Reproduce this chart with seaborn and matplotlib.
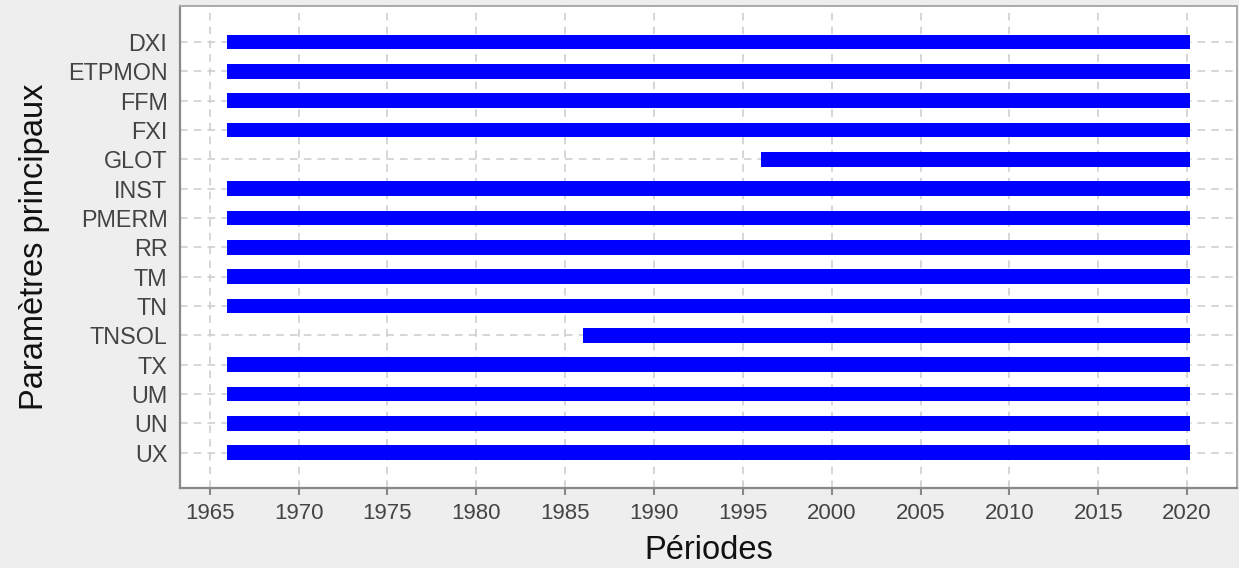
import matplotlib
matplotlib.use("Agg")
import matplotlib.pyplot as plt
import seaborn as sns
import pandas as pd

# Data
parametres = ["DXI", "ETPMON", "FFM", "FXI", "GLOT", "INST", "PMERM", "RR",
              "TM", "TN", "TNSOL", "TX", "UM", "UN", "UX"]
debut = [1966, 1966, 1966, 1966, 1996, 1966, 1966, 1966,
         1966, 1966, 1986, 1966, 1966, 1966, 1966]
fin = [2020.17] * 15
xticks_years = [1965, 1970, 1975, 1980, 1985, 1990, 1995, 2000, 2005, 2010, 2015, 2020]

df = pd.DataFrame({"param": parametres, "debut": debut, "fin": fin})
df["duree"] = df["fin"] - df["debut"]

sns.set_theme(style="white")
plt.rcParams["font.family"] = ["Liberation Sans", "DejaVu Sans"]

bg = "#eeeeee"
fig = plt.figure(figsize=(12.39, 5.68), dpi=100, facecolor=bg)
ax = fig.add_axes([180 / 1239, 1 - 488 / 568, (1237 - 180) / 1239, (488 - 6) / 568])
ax.set_facecolor("white")

sns.barplot(data=df, x="duree", y="param", order=parametres, orient="y",
            color="#0000ff", saturation=1, width=0.5, errorbar=None,
            left=df["debut"].values, linewidth=0, ax=ax, zorder=3)

ax.set_xlim(1963.33, 2022.81)
ax.set_ylim(len(parametres) - 1 + 1.2, -1.23)
ax.set_xticks(xticks_years)
ax.set_xticklabels([str(y) for y in xticks_years])

ax.grid(True, which="major", axis="both", color="#cccccc", linestyle=(0, (5, 4)),
        linewidth=1.1, zorder=0)
ax.set_axisbelow(True)

for side in ["left", "bottom"]:
    ax.spines[side].set_color("#888888")
    ax.spines[side].set_linewidth(1.6)
for side in ["top", "right"]:
    ax.spines[side].set_color("#aaaaaa")
    ax.spines[side].set_linewidth(1.4)
    ax.spines[side].set_visible(True)

ax.tick_params(axis="x", which="major", length=5, width=1.5, color="#888888",
               labelsize=16, labelcolor="#444444", pad=6, bottom=True, direction="out")
ax.tick_params(axis="y", which="major", length=0, labelsize=16.8,
               labelcolor="#444444", pad=9, left=False)

ax.set_xlabel("Périodes", fontsize=23.5, color="#111111", labelpad=8)
ax.set_ylabel("Paramètres principaux", fontsize=23.5, color="#111111", labelpad=13)

fig.savefig("out.png", dpi=100, facecolor=bg)
